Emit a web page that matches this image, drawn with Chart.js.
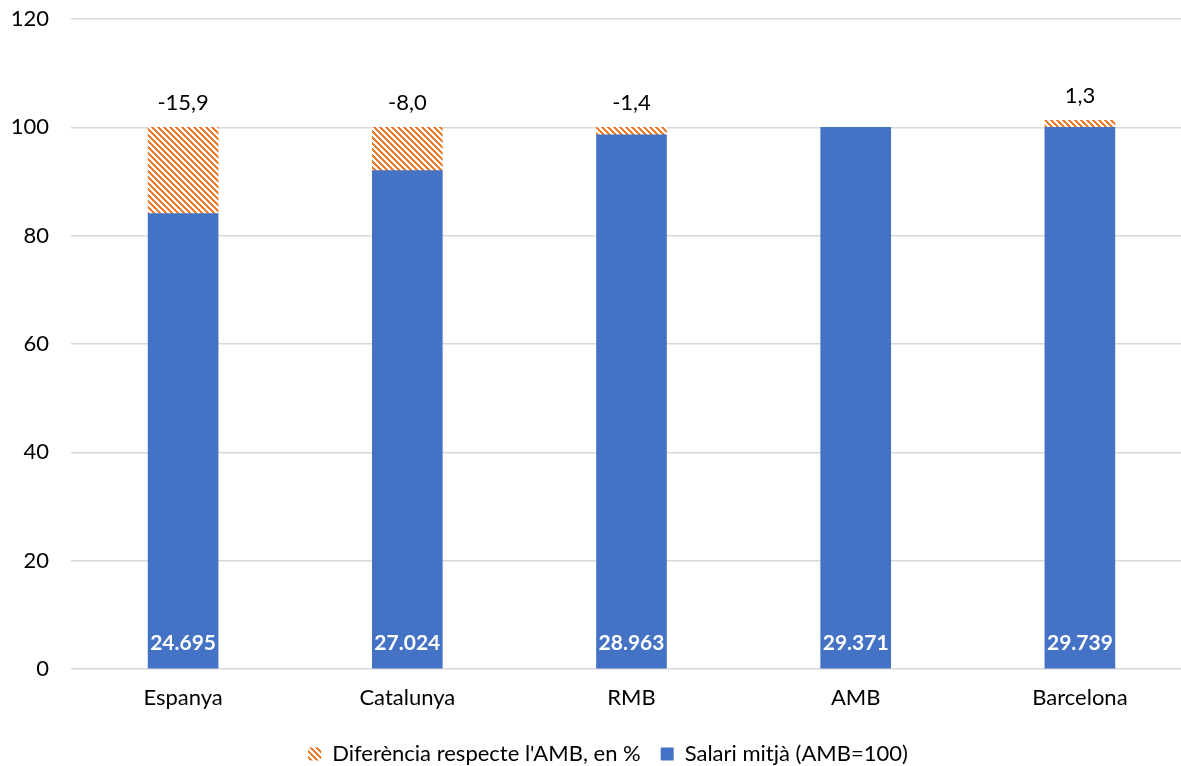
<!DOCTYPE html>
<html>
<head>
<meta charset="utf-8">
<script src="https://cdn.jsdelivr.net/npm/chart.js@4"></script>
<style>
  html, body { margin: 0; padding: 0; background: #fff; overflow: hidden; }
  #wrap { width: 1192px; height: 766px; }
</style>
</head>
<body>
<div id="wrap"><canvas id="c" width="1192" height="766"></canvas></div>
<script>
const categories = ['Espanya', 'Catalunya', 'RMB', 'AMB', 'Barcelona'];
const salaryIndex = [84.1, 92.0, 98.6, 100, 100];
const diffStack = [15.9, 8.0, 1.4, null, 1.3];
const diffLabels = ['-15,9', '-8,0', '-1,4', '', '1,3'];
const salaryLabels = ['24.695', '27.024', '28.963', '29.371', '29.739'];
const yTicks = [0, 20, 40, 60, 80, 100, 120];

const FONT = 'Lato, "Open Sans", sans-serif';

function hatch() {
  const t = document.createElement('canvas');
  t.width = 6; t.height = 6;
  const g = t.getContext('2d');
  g.fillStyle = '#ffffff';
  g.fillRect(0, 0, 6, 6);
  g.fillStyle = '#ED7D31';
  for (let y = 0; y < 6; y++) {
    for (let x = 0; x < 6; x++) {
      if ((((x - y) % 6) + 6) % 6 < 3) g.fillRect(x, y, 1, 1);
    }
  }
  return g.createPattern(t, 'repeat');
}
const pattern = hatch();

const labelPlugin = {
  id: 'labels',
  afterLayout(chart) {
    const lg = chart.legend;
    if (lg) { lg.left += 12; lg.right += 12; }
  },
  afterDatasetsDraw(chart) {
    const ctx = chart.ctx;
    const y = chart.scales.y;
    const meta0 = chart.getDatasetMeta(0);
    ctx.save();
    ctx.textAlign = 'center';
    ctx.textBaseline = 'middle';
    meta0.data.forEach((bar, i) => {
      const top = (salaryIndex[i] || 0) + (diffStack[i] || 0);
      const ty = y.getPixelForValue(top);
      ctx.fillStyle = '#000';
      ctx.font = '22px ' + FONT;
      if (diffLabels[i]) ctx.fillText(diffLabels[i], bar.x, ty - 24);
      ctx.fillStyle = '#fff';
      ctx.font = 'bold 21px ' + FONT;
      ctx.fillText(salaryLabels[i], bar.x, chart.chartArea.bottom - 26);
    });
    ctx.restore();
  }
};

new Chart(document.getElementById('c'), {
  type: 'bar',
  data: {
    labels: categories,
    datasets: [
      { label: 'Salari mitjà (AMB=100)', data: salaryIndex, backgroundColor: '#4472C4', borderWidth: 0 },
      { label: "Diferència respecte l'AMB, en %", data: diffStack, backgroundColor: pattern, borderWidth: 0 }
    ]
  },
  options: {
    responsive: false,
    animation: false,
    layout: { padding: { top: 19, left: 0, right: 0, bottom: -9 } },
    datasets: { bar: { barThickness: 70 } },
    scales: {
      x: {
        stacked: true,
        afterFit(s) { s.height = 54; s.paddingLeft = 0; s.paddingRight = 0; },
        grid: { display: false, drawTicks: false },
        border: { display: false },
        ticks: { color: '#000', font: { family: FONT, size: 22 }, padding: 16 }
      },
      y: {
        stacked: true,
        min: 0, max: 120,
        afterFit(s) { s.width = 71; s.paddingTop = 0; s.paddingBottom = 0; },
        afterBuildTicks(s) { s.ticks = yTicks.map(v => ({ value: v })); },
        grid: { color: '#d9d9d9', lineWidth: 1.5, drawTicks: false },
        border: { display: false },
        ticks: { color: '#000', font: { family: FONT, size: 22 }, padding: 22 }
      }
    },
    plugins: {
      legend: {
        position: 'bottom',
        reverse: true,
        labels: {
          color: '#000',
          font: { family: FONT, size: 22 },
          boxWidth: 13, boxHeight: 13,
          padding: 20
        }
      },
      tooltip: { enabled: false }
    }
  },
  plugins: [labelPlugin]
});
</script>
</body>
</html>
